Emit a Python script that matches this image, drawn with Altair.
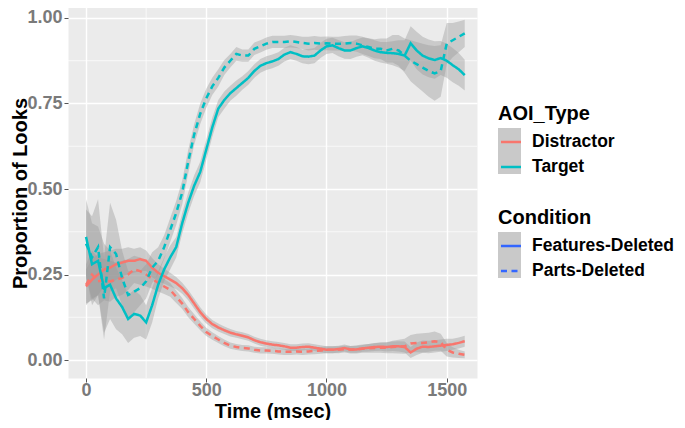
import altair as alt
import pandas as pd

# ---------------- data ----------------
time_ms = [0, 25, 50, 75, 100, 125, 150, 175, 200, 225, 250, 275, 300, 325, 350, 375,
           400, 425, 450, 475, 500, 525, 550, 575, 600, 625, 650, 675, 700, 725, 750, 775,
           800, 825, 850, 875, 900, 925, 950, 975, 1000, 1025, 1050, 1075, 1100, 1125, 1150, 1175,
           1200, 1225, 1250, 1275, 1300, 1325, 1350, 1375, 1400, 1425, 1450, 1475, 1500, 1525, 1550, 1575]

target_features = [0.36, 0.28, 0.29, 0.21, 0.22, 0.18, 0.155, 0.12, 0.135, 0.13,
                   0.11, 0.16, 0.22, 0.265, 0.30, 0.33, 0.40, 0.46, 0.51, 0.55,
                   0.615, 0.68, 0.735, 0.76, 0.78, 0.795, 0.81, 0.825, 0.845, 0.86,
                   0.868, 0.873, 0.88, 0.893, 0.90, 0.895, 0.888, 0.887, 0.89, 0.905,
                   0.917, 0.92, 0.912, 0.905, 0.905, 0.912, 0.917, 0.912, 0.905, 0.90,
                   0.898, 0.897, 0.895, 0.89, 0.926, 0.905, 0.89, 0.882, 0.877, 0.883,
                   0.875, 0.862, 0.85, 0.833]
target_parts = [0.34, 0.30, 0.33, 0.18, 0.33, 0.31, 0.24, 0.19, 0.20, 0.21,
                0.23, 0.27, 0.29, 0.33, 0.38, 0.43, 0.49, 0.58, 0.66, 0.72,
                0.765, 0.80, 0.825, 0.855, 0.875, 0.895, 0.89, 0.89, 0.91, 0.917,
                0.925, 0.93, 0.93, 0.93, 0.932, 0.93, 0.927, 0.925, 0.927, 0.925,
                0.926, 0.925, 0.925, 0.925, 0.927, 0.925, 0.92, 0.915, 0.91, 0.91,
                0.905, 0.91, 0.905, 0.89, 0.875, 0.865, 0.855, 0.845, 0.838, 0.845,
                0.925, 0.935, 0.945, 0.955]
distractor_features = [0.215, 0.235, 0.25, 0.265, 0.27, 0.28, 0.285, 0.29, 0.29, 0.295,
                       0.29, 0.27, 0.255, 0.245, 0.235, 0.225, 0.21, 0.19, 0.165, 0.14,
                       0.12, 0.105, 0.095, 0.087, 0.08, 0.075, 0.071, 0.066, 0.058, 0.052,
                       0.048, 0.045, 0.043, 0.04, 0.036, 0.036, 0.038, 0.039, 0.036, 0.033,
                       0.03, 0.03, 0.032, 0.035, 0.031, 0.031, 0.034, 0.036, 0.038, 0.039,
                       0.038, 0.04, 0.04, 0.038, 0.022, 0.033, 0.039, 0.038, 0.04, 0.042,
                       0.044, 0.046, 0.05, 0.055]
distractor_parts = [0.22, 0.25, 0.23, 0.235, 0.23, 0.235, 0.24, 0.25, 0.265, 0.26,
                    0.25, 0.238, 0.225, 0.215, 0.205, 0.185, 0.165, 0.14, 0.12, 0.10,
                    0.082, 0.07, 0.06, 0.05, 0.042, 0.038, 0.035, 0.034, 0.03, 0.028,
                    0.028, 0.027, 0.025, 0.024, 0.024, 0.025, 0.024, 0.025, 0.027, 0.028,
                    0.03, 0.03, 0.03, 0.032, 0.03, 0.031, 0.033, 0.034, 0.035, 0.036,
                    0.036, 0.038, 0.039, 0.04, 0.048, 0.05, 0.05, 0.052, 0.055, 0.052,
                    0.03, 0.022, 0.018, 0.015]

# ribbon half-widths
se_target_features = [0.11, 0.12, 0.10, 0.13, 0.10, 0.09, 0.08, 0.07, 0.07, 0.06,
                      0.05, 0.05, 0.04, 0.035, 0.035, 0.03, 0.03, 0.03, 0.03, 0.03,
                      0.03, 0.028, 0.025, 0.025, 0.022, 0.022, 0.02, 0.02, 0.02, 0.02,
                      0.02, 0.02, 0.02, 0.02, 0.02, 0.02, 0.02, 0.022, 0.022, 0.022,
                      0.022, 0.022, 0.024, 0.024, 0.025, 0.025, 0.026, 0.028, 0.03, 0.03,
                      0.032, 0.035, 0.04, 0.045, 0.05, 0.055, 0.055, 0.055, 0.055, 0.05,
                      0.05, 0.05, 0.048, 0.045]
se_target_parts = [0.10, 0.12, 0.14, 0.12, 0.13, 0.10, 0.08, 0.07, 0.06, 0.05,
                   0.05, 0.045, 0.04, 0.035, 0.035, 0.035, 0.035, 0.035, 0.03, 0.03,
                   0.028, 0.025, 0.025, 0.022, 0.02, 0.02, 0.018, 0.018, 0.018, 0.018,
                   0.018, 0.018, 0.018, 0.018, 0.018, 0.018, 0.018, 0.02, 0.02, 0.02,
                   0.02, 0.02, 0.02, 0.022, 0.022, 0.024, 0.025, 0.026, 0.028, 0.03,
                   0.035, 0.04, 0.045, 0.05, 0.06, 0.065, 0.07, 0.075, 0.08, 0.075,
                   0.06, 0.05, 0.045, 0.04]
se_distractor_features = [0.05, 0.06, 0.06, 0.05, 0.05, 0.045, 0.04, 0.04, 0.035, 0.035,
                          0.03, 0.028, 0.025, 0.022, 0.02, 0.018, 0.016, 0.015, 0.015, 0.014,
                          0.013, 0.012, 0.012, 0.011, 0.011, 0.01, 0.01, 0.01, 0.01, 0.01,
                          0.01, 0.01, 0.01, 0.01, 0.01, 0.01, 0.01, 0.01, 0.01, 0.01,
                          0.01, 0.01, 0.01, 0.01, 0.01, 0.01, 0.01, 0.011, 0.012, 0.012,
                          0.013, 0.014, 0.015, 0.016, 0.016, 0.018, 0.018, 0.018, 0.018, 0.018,
                          0.018, 0.016, 0.016, 0.016]
se_distractor_parts = [0.06, 0.07, 0.07, 0.06, 0.06, 0.05, 0.05, 0.045, 0.04, 0.04,
                       0.035, 0.03, 0.025, 0.022, 0.02, 0.018, 0.016, 0.015, 0.014, 0.013,
                       0.012, 0.011, 0.01, 0.01, 0.009, 0.009, 0.009, 0.009, 0.009, 0.009,
                       0.009, 0.009, 0.009, 0.009, 0.009, 0.009, 0.009, 0.009, 0.01, 0.01,
                       0.01, 0.01, 0.01, 0.01, 0.011, 0.012, 0.012, 0.013, 0.014, 0.015,
                       0.016, 0.018, 0.02, 0.022, 0.025, 0.027, 0.028, 0.028, 0.028, 0.025,
                       0.02, 0.015, 0.012, 0.01]

aoi_types = ["Distractor", "Target"]
conditions = ["Features-Deleted", "Parts-Deleted"]
aoi_colors = ["#F8766D", "#00BFC4"]
x_ticks = [0, 500, 1000, 1500]
y_ticks = [0, 0.25, 0.5, 0.75, 1.0]
x_minor = [250, 750, 1250]
y_minor = [0.125, 0.375, 0.625, 0.875]
x_title = "Time (msec)"
y_title = "Proportion of Looks"

series = [
    ("Distractor", "Features-Deleted", distractor_features, se_distractor_features),
    ("Distractor", "Parts-Deleted", distractor_parts, se_distractor_parts),
    ("Target", "Features-Deleted", target_features, se_target_features),
    ("Target", "Parts-Deleted", target_parts, se_target_parts),
]
rows = []
for aoi, cond, vals, ses in series:
    assert len(vals) == len(time_ms) and len(ses) == len(time_ms)
    for t, v, s in zip(time_ms, vals, ses):
        rows.append(dict(Time=t, Proportion=v, lo=v - s, hi=v + s,
                         AOI_Type=aoi, Condition=cond, series=aoi + "|" + cond,
                         AOI_key=aoi, Cond_key=cond))
df = pd.DataFrame(rows)

FONT = "Liberation Sans"
xscale = alt.Scale(domain=[-75, 1626], nice=False, zero=False)
yscale = alt.Scale(domain=[-0.0526, 1.0526], nice=False, zero=False)

x_axis = alt.Axis(values=x_ticks, format="d", grid=True, gridColor="white", gridWidth=1.4,
                  domain=False, tickColor="#555555", tickSize=4, tickWidth=1,
                  labelFont=FONT, labelFontSize=18, labelFontWeight="bold",
                  labelColor="#7a7a7a", labelPadding=-1, labelFlush=False,
                  titleFont=FONT, titleFontSize=20, titleFontWeight="bold",
                  titleColor="black", titleBaseline="alphabetic", titleY=39)
y_axis = alt.Axis(values=y_ticks, format=".2f", grid=True, gridColor="white", gridWidth=1.4,
                  domain=False, tickColor="#555555", tickSize=4, tickWidth=1,
                  labelFont=FONT, labelFontSize=18, labelFontWeight="bold",
                  labelColor="#7a7a7a", labelPadding=2,
                  titleFont=FONT, titleFontSize=20, titleFontWeight="bold",
                  titleColor="black", titleAngle=270, titleAlign="center",
                  titleBaseline="middle", titleX=-48, titleY=193)


def X(field):
    return alt.X(field, scale=xscale, axis=x_axis, title=x_title)


def Y(field):
    return alt.Y(field, scale=yscale, axis=y_axis, title=y_title)


def key_legend(y):
    # grey key boxes drawn underneath the line keys
    return alt.Legend(title=" ", orient="none", legendX=430, legendY=y, direction="vertical",
                      titleFont=FONT, titleFontSize=20, titleFontWeight="bold", titlePadding=5,
                      labelExpr="''", labelFontSize=17.5, labelOffset=8,
                      symbolType="square", symbolSize=529, symbolStrokeWidth=0,
                      rowPadding=0, padding=0)


def line_legend(title, y, stroke_color=None):
    d = dict(title=title, orient="none", legendX=430, legendY=y, direction="vertical",
             titleFont=FONT, titleFontSize=20, titleFontWeight="bold", titleColor="black",
             titlePadding=5, labelFont=FONT, labelFontSize=17.5, labelFontWeight="bold",
             labelColor="black", labelOffset=8, labelLimit=400,
             symbolType="M-0.87,0H0.87", symbolSize=529, symbolStrokeWidth=2.5,
             rowPadding=3, padding=0)
    if stroke_color:
        d.update(symbolStrokeColor=stroke_color)
    return alt.Legend(**d)


vgrid = alt.Chart(pd.DataFrame({"t": x_minor})).mark_rule(color="white", strokeWidth=0.7).encode(
    x=X("t:Q"))
hgrid = alt.Chart(pd.DataFrame({"p": y_minor})).mark_rule(color="white", strokeWidth=0.7).encode(
    y=Y("p:Q"))

base = alt.Chart(df)

ribbons = base.mark_area(fill="#999999", fillOpacity=0.4, interpolate="linear").encode(
    x=X("Time:Q"), y=Y("lo:Q"), y2="hi:Q", detail="series:N",
)

aoi_keys = base.mark_area(fillOpacity=1).encode(
    x=X("Time:Q"), y=Y("Proportion:Q"), y2="Proportion:Q", detail="series:N",
    color=alt.Color("AOI_key:N", scale=alt.Scale(range=["#c9c9c9", "#c9c9c9"]),
                    legend=key_legend(103)),
)

cond_keys = base.mark_area(fillOpacity=1).encode(
    x=X("Time:Q"), y=Y("Proportion:Q"), y2="Proportion:Q", detail="series:N",
    fill=alt.Fill("Cond_key:N", scale=alt.Scale(range=["#c9c9c9", "#c9c9c9"]),
                  legend=key_legend(207)),
)

lines = base.mark_line(strokeWidth=2.5).encode(
    x=X("Time:Q"), y=Y("Proportion:Q"),
    stroke=alt.Stroke("AOI_Type:N", scale=alt.Scale(domain=aoi_types, range=aoi_colors),
                      legend=line_legend("AOI_Type", 104)),
    strokeDash=alt.StrokeDash("Condition:N", scale=alt.Scale(domain=conditions, range=[[1, 0], [6, 4.5]]),
                              legend=line_legend("Condition", 208, "#3366FF")),
)

chart = alt.layer(vgrid, hgrid, ribbons, aoi_keys, cond_keys, lines).properties(
    width=409, height=378,
    autosize=alt.AutoSizeParams(type="none"),
    padding={"left": 60, "top": -8, "right": 200, "bottom": 42},
    background="white",
).configure_view(fill="#EBEBEB", stroke="transparent")

chart.save("out.html", embed_options={"renderer": "svg", "actions": False})
